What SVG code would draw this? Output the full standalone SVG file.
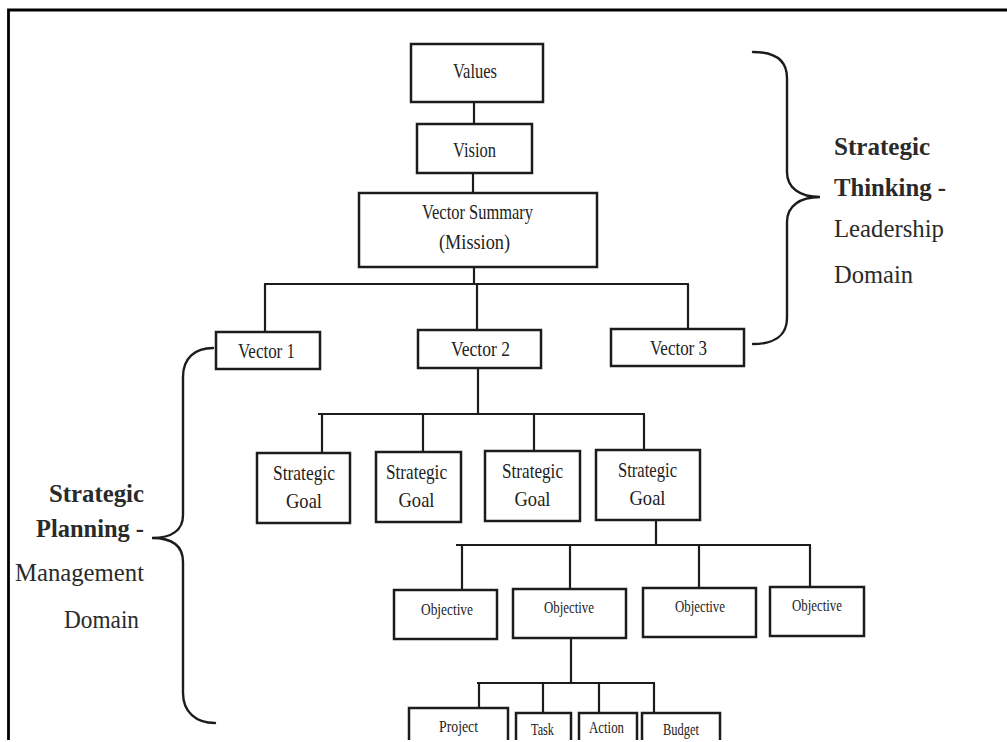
<svg xmlns="http://www.w3.org/2000/svg" width="1007" height="742" viewBox="0 0 1007 742">
  <defs>
    <style>
      .box { fill: #ffffff; stroke: #1c1c1c; stroke-width: 2.5; }
      .wire { fill: none; stroke: #1c1c1c; stroke-width: 2.2; }
      .brace { fill: none; stroke: #1c1c1c; stroke-width: 2.4; stroke-linecap: round; }
      .frame { fill: none; stroke: #000000; stroke-width: 2.8; }
      .t { font-family: "Liberation Serif", "Times New Roman", serif; fill: #222222; text-anchor: middle; }
      .n22 { font-size: 22px; }
      .n21 { font-size: 21px; }
      .n17 { font-size: 17px; }
      .side { fill: #2a2a2a; font-size: 26px; }
      .bold { font-weight: bold; }
    </style>
    <clipPath id="page">
      <rect x="0" y="0" width="1007" height="740"/>
    </clipPath>
  </defs>

  <rect x="0" y="0" width="1007" height="742" fill="#ffffff"/>

  <g clip-path="url(#page)">
    <!-- page frame: top and left rules -->
    <path class="frame" d="M8.5,742 V10 H1007"/>

    <!-- connectors -->
    <g id="connectors">
      <path class="wire" d="M474,102 V124"/>
      <path class="wire" d="M473,173 V193"/>
      <path class="wire" d="M474,267 V284"/>
      <path class="wire" d="M264,284 H689"/>
      <path class="wire" d="M265,284 V332"/>
      <path class="wire" d="M477,284 V330"/>
      <path class="wire" d="M688,284 V329"/>

      <path class="wire" d="M478,368 V414"/>
      <path class="wire" d="M318,414 H645"/>
      <path class="wire" d="M322,414 V453"/>
      <path class="wire" d="M423,414 V452"/>
      <path class="wire" d="M534,414 V451"/>
      <path class="wire" d="M644,414 V450"/>

      <path class="wire" d="M656,520 V545"/>
      <path class="wire" d="M456,545 H811"/>
      <path class="wire" d="M462,545 V590"/>
      <path class="wire" d="M570,545 V589"/>
      <path class="wire" d="M699,545 V588"/>
      <path class="wire" d="M810,545 V587"/>

      <path class="wire" d="M571,638 V683"/>
      <path class="wire" d="M477,683 H655"/>
      <path class="wire" d="M479,683 V716"/>
      <path class="wire" d="M543,683 V713"/>
      <path class="wire" d="M599,683 V713"/>
      <path class="wire" d="M654,683 V713"/>
    </g>

    <!-- top chain -->
    <g id="values">
      <rect class="box" x="411" y="44" width="132" height="58"/>
      <text class="t n22" x="475" y="78" textLength="44" lengthAdjust="spacingAndGlyphs">Values</text>
    </g>
    <g id="vision">
      <rect class="box" x="417" y="124" width="115" height="49"/>
      <text class="t n22" x="474.5" y="157" textLength="43" lengthAdjust="spacingAndGlyphs">Vision</text>
    </g>
    <g id="vector-summary">
      <rect class="box" x="359" y="193" width="238" height="74"/>
      <text class="t n22" x="477.5" y="219" textLength="111" lengthAdjust="spacingAndGlyphs">Vector Summary</text>
      <text class="t n22" x="474.5" y="249" textLength="71" lengthAdjust="spacingAndGlyphs">(Mission)</text>
    </g>

    <!-- vectors -->
    <g id="vector-1">
      <rect class="box" x="216" y="332" width="104" height="37"/>
      <text class="t n21" x="266.5" y="358" textLength="57" lengthAdjust="spacingAndGlyphs">Vector 1</text>
    </g>
    <g id="vector-2">
      <rect class="box" x="418" y="330" width="123" height="38"/>
      <text class="t n21" x="480.5" y="356" textLength="59" lengthAdjust="spacingAndGlyphs">Vector 2</text>
    </g>
    <g id="vector-3">
      <rect class="box" x="611" y="329" width="133" height="37"/>
      <text class="t n21" x="678.5" y="355" textLength="57" lengthAdjust="spacingAndGlyphs">Vector 3</text>
    </g>

    <!-- strategic goals -->
    <g id="goal-1">
      <rect class="box" x="257" y="453" width="93" height="70"/>
      <text class="t n21" x="304" y="480" textLength="62" lengthAdjust="spacingAndGlyphs">Strategic</text>
      <text class="t n21" x="304" y="508" textLength="36" lengthAdjust="spacingAndGlyphs">Goal</text>
    </g>
    <g id="goal-2">
      <rect class="box" x="376" y="452" width="85" height="70"/>
      <text class="t n21" x="416.5" y="479" textLength="61" lengthAdjust="spacingAndGlyphs">Strategic</text>
      <text class="t n21" x="416.5" y="507" textLength="36" lengthAdjust="spacingAndGlyphs">Goal</text>
    </g>
    <g id="goal-3">
      <rect class="box" x="485" y="451" width="95" height="70"/>
      <text class="t n21" x="532.5" y="478" textLength="61" lengthAdjust="spacingAndGlyphs">Strategic</text>
      <text class="t n21" x="532.5" y="506" textLength="36" lengthAdjust="spacingAndGlyphs">Goal</text>
    </g>
    <g id="goal-4">
      <rect class="box" x="596" y="450" width="104" height="70"/>
      <text class="t n21" x="647.5" y="477" textLength="59" lengthAdjust="spacingAndGlyphs">Strategic</text>
      <text class="t n21" x="647.5" y="505" textLength="36" lengthAdjust="spacingAndGlyphs">Goal</text>
    </g>

    <!-- objectives -->
    <g id="objective-1">
      <rect class="box" x="394" y="590" width="103" height="49"/>
      <text class="t n17" x="447" y="615" textLength="52" lengthAdjust="spacingAndGlyphs">Objective</text>
    </g>
    <g id="objective-2">
      <rect class="box" x="513" y="589" width="113" height="49"/>
      <text class="t n17" x="569" y="613" textLength="50" lengthAdjust="spacingAndGlyphs">Objective</text>
    </g>
    <g id="objective-3">
      <rect class="box" x="643" y="588" width="113" height="49"/>
      <text class="t n17" x="700" y="612" textLength="50" lengthAdjust="spacingAndGlyphs">Objective</text>
    </g>
    <g id="objective-4">
      <rect class="box" x="770" y="587" width="94" height="49"/>
      <text class="t n17" x="817" y="611" textLength="50" lengthAdjust="spacingAndGlyphs">Objective</text>
    </g>

    <!-- work items -->
    <g id="project">
      <rect class="box" x="409" y="708" width="99" height="50"/>
      <text class="t n17" x="458.5" y="732" textLength="39" lengthAdjust="spacingAndGlyphs">Project</text>
    </g>
    <g id="task">
      <rect class="box" x="516" y="713" width="55" height="45"/>
      <text class="t n17" x="542.5" y="735" textLength="23" lengthAdjust="spacingAndGlyphs">Task</text>
    </g>
    <g id="action">
      <rect class="box" x="579" y="713" width="58" height="45"/>
      <text class="t n17" x="606.5" y="733" textLength="35" lengthAdjust="spacingAndGlyphs">Action</text>
    </g>
    <g id="budget">
      <rect class="box" x="642" y="713" width="78" height="45"/>
      <text class="t n17" x="681" y="735" textLength="36" lengthAdjust="spacingAndGlyphs">Budget</text>
    </g>

    <!-- leadership domain brace and caption -->
    <g id="thinking-domain" font-family="'Liberation Serif', 'Times New Roman', serif">
      <path class="brace" d="M753,52 C775,52 787,60 787,78 V172 C787,188 800,197 820,197 C800,197 787,206 787,222 V318 C787,335 775,344 753,344"/>
      <text class="side bold" x="834" y="155" textLength="96" lengthAdjust="spacingAndGlyphs">Strategic</text>
      <text class="side bold" x="834" y="196" textLength="112" lengthAdjust="spacingAndGlyphs">Thinking -</text>
      <text class="side" x="834" y="237" textLength="110" lengthAdjust="spacingAndGlyphs">Leadership</text>
      <text class="side" x="834" y="283" textLength="79" lengthAdjust="spacingAndGlyphs">Domain</text>
    </g>

    <!-- management domain brace and caption -->
    <g id="planning-domain" font-family="'Liberation Serif', 'Times New Roman', serif">
      <path class="brace" d="M213,348 C195,348 183,358 183,377 V515 C183,530 172,538 152,538 C172,538 183,546 183,562 V693 C183,712 196,723 215,723"/>
      <text class="side bold" x="49" y="502" textLength="95" lengthAdjust="spacingAndGlyphs">Strategic</text>
      <text class="side bold" x="36" y="537" textLength="108" lengthAdjust="spacingAndGlyphs">Planning -</text>
      <text class="side" x="15" y="581" textLength="129" lengthAdjust="spacingAndGlyphs">Management</text>
      <text class="side" x="64" y="628" textLength="75" lengthAdjust="spacingAndGlyphs">Domain</text>
    </g>
  </g>
</svg>
